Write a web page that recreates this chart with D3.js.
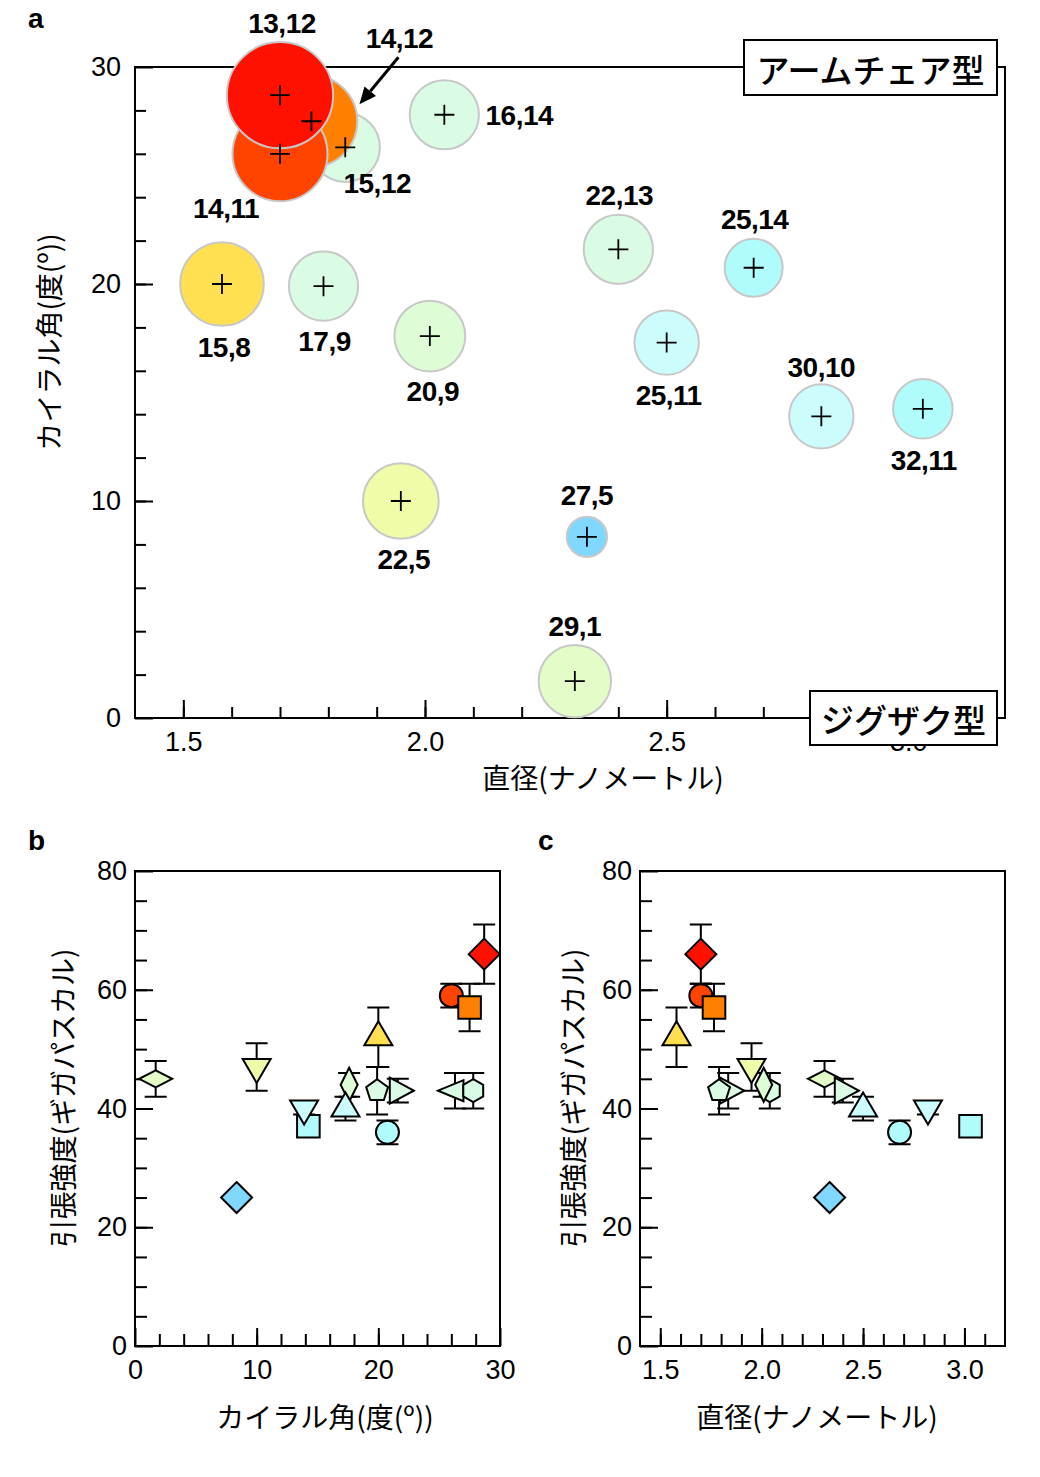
<!DOCTYPE html>
<html><head><meta charset="utf-8">
<script src="https://cdn.jsdelivr.net/npm/d3@7"></script>
<style>body{margin:0;background:#fff}</style>
</head><body>
<svg id="chart" width="1040" height="1477" xmlns="http://www.w3.org/2000/svg"></svg>
<script>
// ---------------- DATA ----------------
const chirality    = ["13,12","14,11","14,12","15,8","15,12","16,14","17,9","22,5","20,9","29,1","22,13","25,11","25,14","27,5","32,11","30,10"];
const diameter     = [1.70, 1.70, 1.765, 1.58, 1.835, 2.04, 1.79, 1.95, 2.01, 2.31, 2.40, 2.50, 2.68, 2.335, 3.03, 2.82];
const chiralAngle  = [28.7, 26.0, 27.5, 20.0, 26.3, 27.8, 19.9, 10.0, 17.6, 1.7, 21.6, 17.3, 20.75, 8.35, 14.25, 13.9];
const strength     = [66, 59, 57, 52, 43, 43, 43, 47, 44, 45, 43, 40, 36, 25, 37, 40];
const strengthErr  = [5, 2, 4, 5, 3, 3, 4, 4, 2, 3, 2, 2, 2, 0, 1, 1];

const diameterTicks = [1.5, 2.0, 2.5, 3.0];
const angleTicksA   = [0, 10, 20, 30];
const angleTicksB   = [0, 10, 20, 30];
const strengthTicks = [0, 20, 40, 60, 80];

// ---------------- STYLE ----------------
const fills   = ["#FF1100","#FF4400","#FF8000","#FFE050","#DAFCE4","#DAFCE4","#DAFCE4","#F0FCA8","#DEFCD6","#E4FCC8","#DAFCE4","#CCFCFC","#B0FCFC","#80D8FF","#B0FCFC","#CCFCFC"];
const markerB = ["diamond","circle","square","triUp","triLeft","hexagon","pentagon","triDown","diamondTall","diamondWide","triRight","triUp","circle","diamond","square","triDown"];
const markerC = ["diamond","circle","square","triUp","triRight","hexagon","pentagon","triDown","diamondTall","diamondWide","triRight","triUp","circle","diamond","square","triDown"];
// label offsets (px) from bubble centre in panel a
const labelOffset = [[2,-72],[-54,55],[88,-83],[2,63],[32,36],[75,1],[1,55],[3,58],[3,55],[0,-55],[1,-54],[2,53],[1,-48],[0,-41],[1,52],[0,-49]];

const NUM_FONT = "'Liberation Sans', Arial, Helvetica, sans-serif";
const JP_FONT  = "'Noto Sans CJK JP', 'Noto Sans', sans-serif";

const svg = d3.select("#chart");
const data = chirality.map((c,i)=>({c, d:diameter[i], a:chiralAngle[i], s:strength[i], e:strengthErr[i], fill:fills[i], mb:markerB[i], mc:markerC[i], lo:labelOffset[i]}));

// ---------------- helpers ----------------
function range(a,b,step){const r=[];for(let v=a;v<=b+1e-9;v+=step)r.push(+v.toFixed(4));return r;}
function styleAxis(g, fontSize){
  g.select(".domain").remove();
  g.selectAll("line").attr("stroke","#000").attr("stroke-width",2);
  g.selectAll("text").attr("font-family",NUM_FONT).attr("font-size",fontSize).attr("fill","#000");
}
function drawAxes(g, x, y, o){
  g.append("g").attr("transform",`translate(${x.range()[0]},0)`)
    .call(d3.axisLeft(y).tickValues(o.yMinor).tickSize(-o.yMinorLen).tickFormat(""))
    .call(s=>styleAxis(s,o.fs));
  g.append("g").attr("transform",`translate(${x.range()[0]},0)`)
    .call(d3.axisLeft(y).tickValues(o.yMajor).tickSize(-o.yMajorLen).tickPadding(o.yPad).tickFormat(o.yFmt))
    .call(s=>styleAxis(s,o.fs));
  g.append("g").attr("transform",`translate(0,${y.range()[0]})`)
    .call(d3.axisBottom(x).tickValues(o.xMinor).tickSize(-o.xMinorLen).tickFormat(""))
    .call(s=>styleAxis(s,o.fs));
  g.append("g").attr("transform",`translate(0,${y.range()[0]})`)
    .call(d3.axisBottom(x).tickValues(o.xMajor).tickSize(-o.xMajorLen).tickPadding(o.xPad).tickFormat(o.xFmt))
    .call(s=>styleAxis(s,o.fs));
  g.append("rect")
    .attr("x",x.range()[0]).attr("y",y.range()[1])
    .attr("width",x.range()[1]-x.range()[0]).attr("height",y.range()[0]-y.range()[1])
    .attr("fill","none").attr("stroke","#000").attr("stroke-width",2);
}
function poly(pts){return "M"+pts.map(p=>p.join(",")).join("L")+"Z";}
function ngon(n,r){return poly(d3.range(n).map(k=>{const t=-Math.PI/2+k*2*Math.PI/n;return [r*Math.cos(t),r*Math.sin(t)];}));}
const shapes = {
  circle: "M11.5,0A11.5,11.5 0 1,1 -11.5,0A11.5,11.5 0 1,1 11.5,0Z",
  diamond: poly([[0,-15.5],[15.5,0],[0,15.5],[-15.5,0]]),
  diamondWide: poly([[0,-8.5],[16.5,0],[0,8.5],[-16.5,0]]),
  diamondTall: poly([[0,-17],[8.5,0],[0,17],[-8.5,0]]),
  square: poly([[-11.3,-11.3],[11.3,-11.3],[11.3,11.3],[-11.3,11.3]]),
  triUp: poly([[0,-16],[14,8],[-14,8]]),
  triDown: poly([[0,16],[14,-8],[-14,-8]]),
  triRight: poly([[16,0],[-8,-13],[-8,13]]),
  triLeft: poly([[-17,0],[8.5,-10.5],[8.5,10.5]]),
  pentagon: ngon(5,11.5),
  hexagon: ngon(6,11.5)
};
function jpText(g,x,y,txt,size,rot,weight){
  const t=g.append("text").attr("x",x).attr("y",y).attr("font-family",JP_FONT).attr("font-size",size)
    .attr("font-weight",weight||400)
    .attr("text-anchor","middle").attr("dominant-baseline","central").attr("fill","#000").text(txt);
  if(rot) t.attr("transform",`rotate(${rot},${x},${y})`);
  return t;
}
function panelLetter(x,y,t){
  svg.append("text").attr("x",x).attr("y",y).attr("font-family",NUM_FONT).attr("font-weight","bold")
    .attr("font-size",28).attr("fill","#000").text(t);
}

// ================= PANEL A =================
const gA = svg.append("g");
const xA = d3.scaleLinear().domain([1.4,3.2]).range([135,1005]);
const yA = d3.scaleLinear().domain([0,30]).range([718,67]);
const rA = d3.scaleLinear().domain([0,80]).range([0,64.4]);

drawAxes(gA, xA, yA, {
  yMinor: range(2,28,2), yMinorLen:11, yMajor: angleTicksA, yMajorLen:18, yPad:14, yFmt:d3.format("d"),
  xMinor: range(1.5,3.1,0.1), xMinorLen:11, xMajor: diameterTicks, xMajorLen:18, xPad:14, xFmt:d3.format(".1f"),
  fs:27
});

const bubbles = d3.sort(data, d=>d.s);
gA.append("g").selectAll("circle").data(bubbles).join("circle")
  .attr("cx",d=>xA(d.d)).attr("cy",d=>yA(d.a)).attr("r",d=>rA(d.s))
  .attr("fill",d=>d.fill).attr("stroke","#c8c8c8").attr("stroke-width",2);
gA.append("g").selectAll("path").data(data).join("path")
  .attr("d",d=>{const x=xA(d.d),y=yA(d.a);return `M${x-10},${y}H${x+10}M${x},${y-10}V${y+10}`;})
  .attr("stroke","#000").attr("stroke-width",1.8).attr("fill","none");
gA.append("g").selectAll("text").data(data).join("text")
  .attr("x",d=>xA(d.d)+d.lo[0]).attr("y",d=>yA(d.a)+d.lo[1])
  .attr("text-anchor","middle").attr("dominant-baseline","central")
  .attr("font-family",NUM_FONT).attr("font-weight","bold").attr("font-size",28).attr("letter-spacing",-0.5)
  .attr("fill","#000").text(d=>d.c);

// arrow for 14,12
{
  const d = data.find(v=>v.c==="14,12");
  const px=xA(d.d), py=yA(d.a);
  const x0=px+d.lo[0]-1, y0=py+d.lo[1]+19, x1=px+48, y1=py-17;
  const ang=Math.atan2(y1-y0,x1-x0), L=17, Wd=7.5;
  const bx=x1-L*Math.cos(ang), by=y1-L*Math.sin(ang);
  gA.append("line").attr("x1",x0).attr("y1",y0).attr("x2",bx).attr("y2",by).attr("stroke","#000").attr("stroke-width",3);
  gA.append("path").attr("d",poly([[x1,y1],[bx+Wd*Math.sin(ang),by-Wd*Math.cos(ang)],[bx-Wd*Math.sin(ang),by+Wd*Math.cos(ang)]])).attr("fill","#000");
}

// annotation boxes
function labelBox(x,y,w,h,txt){
  gA.append("rect").attr("x",x).attr("y",y).attr("width",w).attr("height",h).attr("fill","#fff").attr("stroke","#000").attr("stroke-width",2);
  jpText(gA,x+w/2,y+h/2+1,txt,33,0,500);
}
labelBox(744,40,253,55,"アームチェア型");
labelBox(810,691,187,54,"ジグザク型");

jpText(gA,48,342,"カイラル角(度(º))",28,-90);
jpText(gA,603,777,"直径(ナノメートル)",28);
panelLetter(28,28,"a");

// ================= PANELS B & C =================
function strengthPanel(xScale, xVal, markerKey, xOpts){
  const g = svg.append("g");
  const y = d3.scaleLinear().domain([0,80]).range([1346,871]);
  drawAxes(g, xScale, y, Object.assign({
    yMinor: range(5,75,5), yMinorLen:12, yMajor: strengthTicks, yMajorLen:18, yPad:8, yFmt:d3.format("d"),
    xMinorLen:12, xMajorLen:18, xPad:14, fs:27
  }, xOpts));
  const eb = g.append("g").attr("stroke","#000").attr("stroke-width",2).attr("fill","none");
  data.filter(d=>d.e>0).forEach(d=>{
    const x=xScale(xVal(d)), y0=y(d.s-d.e), y1=y(d.s+d.e);
    eb.append("path").attr("d",`M${x},${y0}V${y1}M${x-11},${y0}H${x+11}M${x-11},${y1}H${x+11}`);
  });
  g.append("g").selectAll("path").data(data).join("path")
    .attr("transform",d=>`translate(${xScale(xVal(d))},${y(d.s)})`)
    .attr("d",d=>shapes[d[markerKey]])
    .attr("fill",d=>d.fill).attr("stroke","#000").attr("stroke-width",2).attr("stroke-linejoin","miter");
  return g;
}

const xB = d3.scaleLinear().domain([0,30]).range([135,500]);
const gB = strengthPanel(xB, d=>d.a, "mb", {xMinor: range(2,28,2), xMajor: angleTicksB, xFmt:d3.format("d")});
jpText(gB,62,1098,"引張強度(ギガパスカル)",28,-90);
jpText(gB,325,1416,"カイラル角(度(º))",28);
panelLetter(28,850,"b");

const xC = d3.scaleLinear().domain([1.4,3.2]).range([640,1005]);
const gC = strengthPanel(xC, d=>d.d, "mc", {xMinor: range(1.5,3.1,0.1), xMajor: diameterTicks, xFmt:d3.format(".1f")});
jpText(gC,572,1098,"引張強度(ギガパスカル)",28,-90);
jpText(gC,817,1416,"直径(ナノメートル)",28);
panelLetter(538,850,"c");
</script>
</body></html>
